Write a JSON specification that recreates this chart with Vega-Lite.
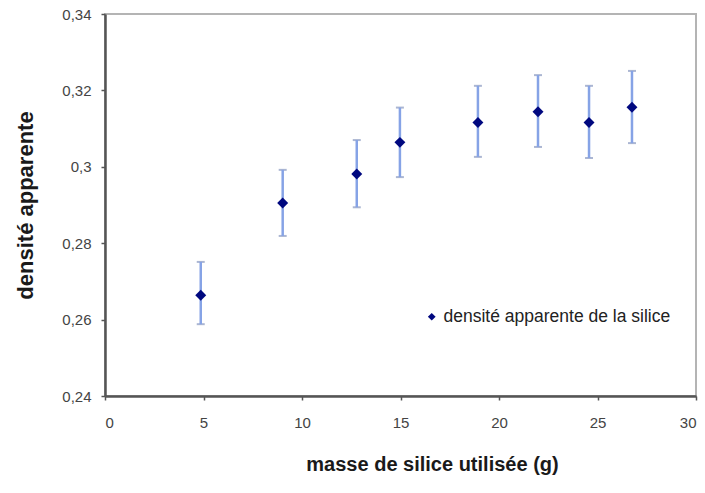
{
  "$schema": "https://vega.github.io/schema/vega-lite/v6.json",
  "width": 591,
  "height": 382,
  "autosize": {"type": "none"},
  "padding": {"left": 105, "top": 14, "right": 9, "bottom": 97},
  "background": "white",
  "config": {
    "view": {"stroke": "#b4b4b4", "strokeWidth": 2},
    "font": "Liberation Sans, Arial, sans-serif",
    "axis": {
      "grid": false,
      "domainColor": "#555555",
      "domainWidth": 2.5,
      "tickColor": "#555555",
      "tickSize": 4,
      "tickWidth": 1.5,
      "labelFont": "Liberation Sans, Arial, sans-serif",
      "labelFontSize": 15,
      "labelColor": "#444444",
      "titleFont": "Liberation Sans, Arial, sans-serif",
      "titleFontWeight": "bold",
      "titleColor": "#1a1a1a"
    }
  },
  "data": {
    "values": [
      {"masse": 4.86, "densite": 0.2664, "lo": 0.2588, "hi": 0.2751, "serie": "densité apparente de la silice"},
      {"masse": 9.02, "densite": 0.2905, "lo": 0.2819, "hi": 0.2992, "serie": "densité apparente de la silice"},
      {"masse": 12.78, "densite": 0.2981, "lo": 0.2894, "hi": 0.3070, "serie": "densité apparente de la silice"},
      {"masse": 14.97, "densite": 0.3064, "lo": 0.2973, "hi": 0.3155, "serie": "densité apparente de la silice"},
      {"masse": 18.93, "densite": 0.3116, "lo": 0.3026, "hi": 0.3212, "serie": "densité apparente de la silice"},
      {"masse": 21.98, "densite": 0.3144, "lo": 0.3052, "hi": 0.3240, "serie": "densité apparente de la silice"},
      {"masse": 24.57, "densite": 0.3116, "lo": 0.3023, "hi": 0.3212, "serie": "densité apparente de la silice"},
      {"masse": 26.75, "densite": 0.3156, "lo": 0.3062, "hi": 0.3251, "serie": "densité apparente de la silice"}
    ]
  },
  "layer": [
    {
      "mark": {
        "type": "errorbar",
        "ticks": {"size": 8, "color": "#8797bf", "thickness": 2},
        "rule": {"color": "#86a3e6", "strokeWidth": 2.5}
      },
      "encoding": {
        "x": {
          "field": "masse",
          "type": "quantitative",
          "title": "masse de silice utilisée (g)",
          "scale": {"domain": [0, 30], "nice": false, "zero": false},
          "axis": {
            "values": [0, 5, 10, 15, 20, 25, 30],
            "titleFontSize": 20,
            "titleX": 327,
            "labelPadding": 15,
            "titlePadding": 24
          }
        },
        "y": {
          "field": "lo",
          "type": "quantitative",
          "title": "densité apparente",
          "scale": {"domain": [0.24, 0.34], "nice": false, "zero": false},
          "axis": {
            "values": [0.24, 0.26, 0.28, 0.3, 0.32, 0.34],
            "labelExpr": "replace(format(datum.value, '.2~f'), '.', ',')",
            "titleFontSize": 22,
            "labelPadding": 10,
            "titlePadding": 24
          }
        },
        "y2": {"field": "hi"}
      }
    },
    {
      "mark": {"type": "point", "shape": "diamond", "filled": true, "size": 120, "opacity": 1},
      "encoding": {
        "x": {"field": "masse", "type": "quantitative", "title": "masse de silice utilisée (g)"},
        "y": {"field": "densite", "type": "quantitative", "title": "densité apparente"},
        "color": {
          "field": "serie",
          "type": "nominal",
          "scale": {"range": ["#00087f"]},
          "legend": {
            "title": null,
            "orient": "none",
            "legendX": 318,
            "legendY": 294,
            "symbolType": "diamond",
            "symbolSize": 60,
            "symbolStrokeWidth": 0,
            "labelFontSize": 17.5,
            "labelLimit": 400,
            "labelColor": "#222222",
            "labelOffset": 3,
            "labelFont": "Liberation Sans, Arial, sans-serif",
            "padding": 0
          }
        }
      }
    }
  ]
}
